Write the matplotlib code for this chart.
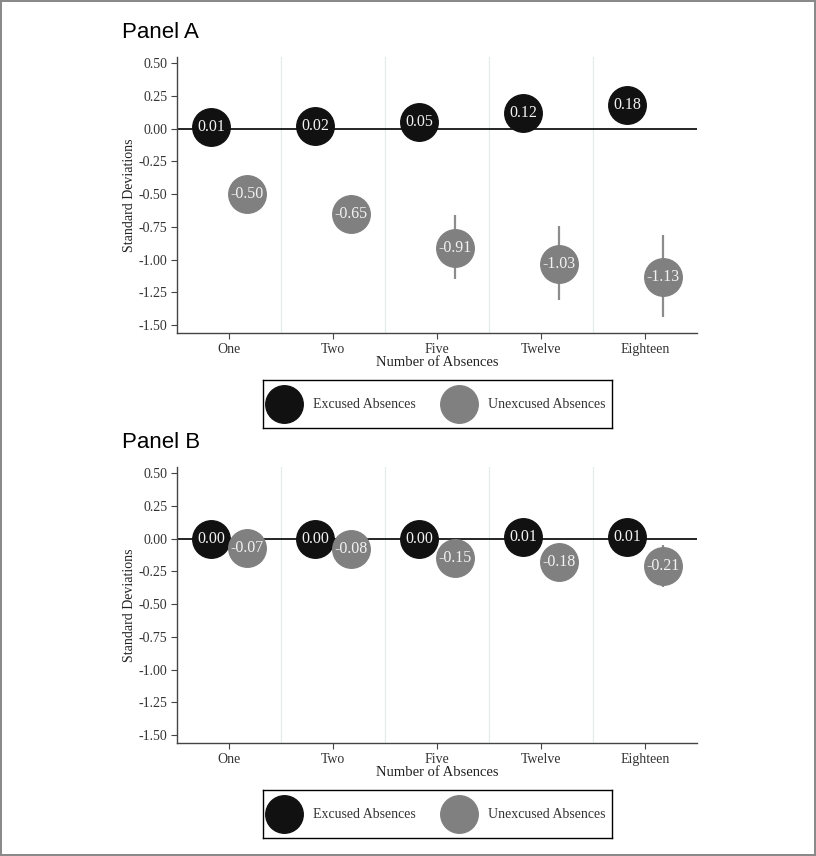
import numpy as np
import matplotlib
matplotlib.use("Agg")
import matplotlib.pyplot as plt

plt.rcParams["axes.unicode_minus"] = False
serif = ["Liberation Serif", "DejaVu Serif"]

# Estimates (standard deviations) by number of absences
categories = ["One", "Two", "Five", "Twelve", "Eighteen"]

# Panel A
a_excused = [0.01, 0.02, 0.05, 0.12, 0.18]
a_excused_lo = [-0.03, -0.02, 0.00, 0.06, 0.10]
a_excused_hi = [0.05, 0.06, 0.10, 0.18, 0.26]
a_unexcused = [-0.50, -0.65, -0.91, -1.03, -1.13]
a_unexcused_lo = [-0.62, -0.79, -1.15, -1.31, -1.44]
a_unexcused_hi = [-0.38, -0.51, -0.66, -0.74, -0.81]

# Panel B
b_excused = [0.00, 0.00, 0.00, 0.01, 0.01]
b_excused_lo = [-0.01, -0.01, -0.02, -0.01, -0.02]
b_excused_hi = [0.01, 0.01, 0.02, 0.03, 0.04]
b_unexcused = [-0.07, -0.08, -0.15, -0.18, -0.21]
b_unexcused_lo = [-0.11, -0.13, -0.23, -0.28, -0.37]
b_unexcused_hi = [-0.03, -0.03, -0.07, -0.08, -0.05]

yticks = [0.50, 0.25, 0.00, -0.25, -0.50, -0.75, -1.00, -1.25, -1.50]
series_names = ["Excused Absences", "Unexcused Absences"]

excused_color = "#111111"
unexcused_color = "#808080"
whisker_color = "#8c8c8c"

fig = plt.figure(figsize=(8.16, 8.56), dpi=100)
fig.patch.set_edgecolor("#8a8a8a")
fig.patch.set_linewidth(1.5)


def draw_panel(ax, exc, exc_lo, exc_hi, unx, unx_lo, unx_hi):
    x = np.arange(1, len(categories) + 1)
    off = 0.17

    # separators between categories
    for b in x[:-1] + 0.5:
        ax.axvline(b, color="#e3ecec", lw=0.9, zorder=0)
    ax.axhline(0, color="black", lw=1.2, zorder=1)

    for vals, lo, hi, dx, col in [(exc, exc_lo, exc_hi, -off, excused_color),
                                  (unx, unx_lo, unx_hi, off, unexcused_color)]:
        xs = x + dx
        ax.vlines(xs, lo, hi, color=whisker_color, lw=1.6, zorder=2)
        ax.plot(xs, vals, "o", ms=27, color=col, mec=col, zorder=3)
        for xi, v in zip(xs, vals):
            ax.text(xi, v, f"{v:.2f}", ha="center", va="center", color="#f2f2f2",
                    fontsize=11.5, family=serif, zorder=4)

    ax.set_xlim(0.5, len(categories) + 0.5)
    ax.set_ylim(-1.56, 0.546)
    ax.set_xticks(x)
    ax.set_xticklabels(categories, family=serif, fontsize=10, color="#333333")
    ax.set_yticks(yticks)
    ax.set_yticklabels([f"{t:.2f}" for t in yticks], family=serif, fontsize=10,
                       color="#333333")
    ax.set_xlabel("Number of Absences", family=serif, fontsize=10.5,
                  color="#222222", labelpad=0)
    ax.set_ylabel("Standard Deviations", family=serif, fontsize=10,
                  color="#222222", labelpad=2)
    for s in ["top", "right"]:
        ax.spines[s].set_visible(False)
    for s in ["left", "bottom"]:
        ax.spines[s].set_color("#444444")
        ax.spines[s].set_linewidth(1.0)
    ax.tick_params(direction="out", length=4, color="#444444", pad=3)


def draw_key(top_px):
    # boxed key under each panel, laid out in pixel units of the box
    lax = fig.add_axes([263 / 816, 1 - (top_px + 48) / 856, 349 / 816, 48 / 856])
    lax.set_xlim(0, 349)
    lax.set_ylim(0, 48)
    lax.set_xticks([])
    lax.set_yticks([])
    for s in lax.spines.values():
        s.set_color("black")
        s.set_linewidth(1.0)
    for x0, name, col in [(21, series_names[0], excused_color),
                          (196, series_names[1], unexcused_color)]:
        lax.plot([x0], [24], "o", ms=27, color=col, mec=col, clip_on=False)
        lax.text(x0 + 29, 24, name, ha="left", va="center", family=serif,
                 fontsize=10, color="#333333")


ax_a = fig.add_axes([177 / 816, 1 - 333 / 856, 520 / 816, 276 / 856])
draw_panel(ax_a, a_excused, a_excused_lo, a_excused_hi,
           a_unexcused, a_unexcused_lo, a_unexcused_hi)
ax_b = fig.add_axes([177 / 816, 1 - 743 / 856, 520 / 816, 276 / 856])
draw_panel(ax_b, b_excused, b_excused_lo, b_excused_hi,
           b_unexcused, b_unexcused_lo, b_unexcused_hi)

fig.text(122 / 816, 1 - 32 / 856, "Panel A", fontsize=16, family="Liberation Sans",
         va="center", ha="left")
fig.text(122 / 816, 1 - 442 / 856, "Panel B", fontsize=16, family="Liberation Sans",
         va="center", ha="left")

draw_key(380)
draw_key(790)

fig.savefig("out.png", dpi=100)
